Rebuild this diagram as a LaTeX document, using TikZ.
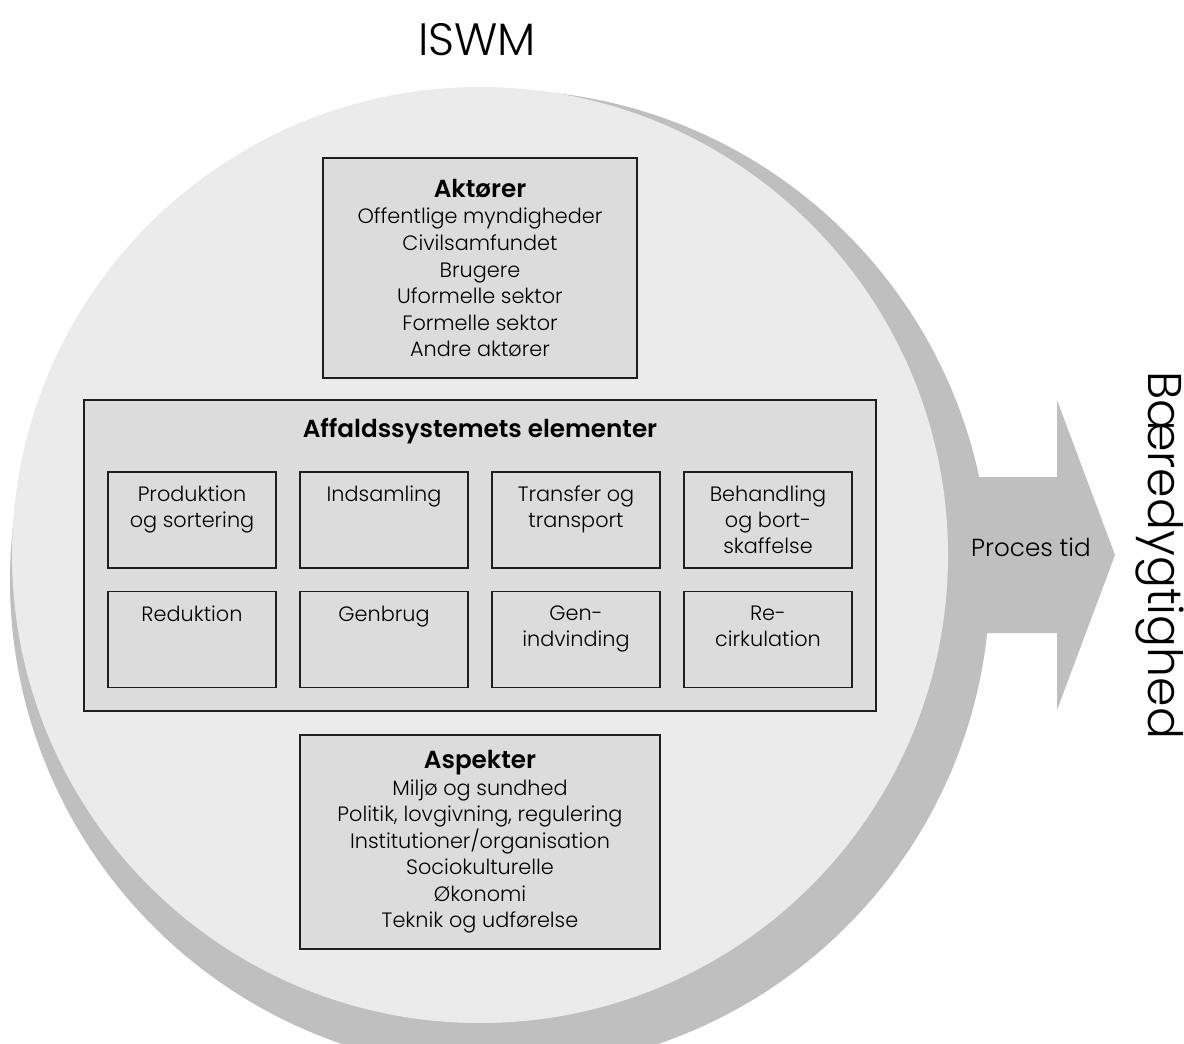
\documentclass[tikz,border=0pt]{standalone}
\usepackage{fontspec}
\setmainfont{Poppins}[UprightFont=* Light, BoldFont=* SemiBold]
\usepackage{xcolor}
\usepackage{tikz}

\definecolor{circlelight}{HTML}{EBEBEB}
\definecolor{circledark}{HTML}{BFBFBF}
\definecolor{boxfill}{HTML}{DCDCDC}

\tikzset{
  panel/.style={draw=black!88, line width=1.1pt, fill=boxfill, inner sep=0pt},
  elem/.style={panel, minimum width=126pt, minimum height=72pt},
  elemtext/.style={anchor=north, inner sep=0pt, yshift=-11pt, align=center,
    font=\fontsize{15.6}{19.5}\selectfont},
  listtext/.style={align=center, font=\fontsize{15.6}{19.9}\selectfont},
}

\begin{document}
\begin{tikzpicture}[x=0.75pt,y=0.75pt,yscale=-1]
\clip (0,0) rectangle (1184,1043);

%Shape: Arrow
\fill [circledark] (900,477) -- (1057,477) -- (1057,400) -- (1115,555) -- (1057,710) -- (1057,633) -- (900,633) -- cycle ;
%Shape: Circle (shadow)
\fill [circledark] (500,580) circle [radius=490] ;
%Shape: Circle
\fill [circlelight] (480,555) circle [radius=468] ;

% Title
\node (iswm) at (477,40) [font=\fontsize{34}{40}\selectfont] {ISWM};

% Aktoerer
\node (aktorer) at (480,268) [panel, minimum width=235.5pt, minimum height=165pt, listtext]
  {{\bfseries\fontsize{18.5}{21}\selectfont Aktører}\\Offentlige myndigheder\\Civilsamfundet\\Brugere\\Uformelle sektor\\Formelle sektor\\Andre aktører};

% Affaldssystemets elementer
\node (system) at (480,555.5) [panel, minimum width=594pt, minimum height=233.25pt,
  label={[anchor=north, inner sep=0pt, yshift=-14pt, font=\bfseries\fontsize{18.5}{21}\selectfont]north:Affaldssystemets elementer}] {};

\node (produktion) at (192,520) [elem, label={[elemtext]north:Produktion\\og sortering}] {};
\node (indsamling) at (384,520) [elem, label={[elemtext]north:Indsamling}] {};
\node (transfer) at (576,520) [elem, label={[elemtext]north:Transfer og\\transport}] {};
\node (behandling) at (768,520) [elem, label={[elemtext]north:Behandling\\og bort-\\skaffelse}] {};
\node (reduktion) at (192,639.5) [elem, label={[elemtext]north:Reduktion}] {};
\node (genbrug) at (384,639.5) [elem, label={[elemtext]north:Genbrug}] {};
\node (genindvinding) at (576,639.5) [elem, label={[elemtext]north:Gen-\\indvinding}] {};
\node (recirkulation) at (768,639.5) [elem, label={[elemtext]north:Re-\\cirkulation}] {};

% Aspekter
\node (aspekter) at (480,842) [panel, minimum width=270pt, minimum height=160.5pt, listtext]
  {{\bfseries\fontsize{18.5}{21}\selectfont Aspekter}\\Miljø og sundhed\\Politik, lovgivning, regulering\\Institutioner/organisation\\Sociokulturelle\\Økonomi\\Teknik og udførelse};

% Text Node
\node (proces) at (1031,547) [font=\fontsize{18.5}{22}\selectfont] {Proces tid};
% Text Node
\node (baeredygtighed) at (1160,555) [rotate=-90, font=\fontsize{35.5}{40}\selectfont] {Bæredygtighed};
\end{tikzpicture}
\end{document}
